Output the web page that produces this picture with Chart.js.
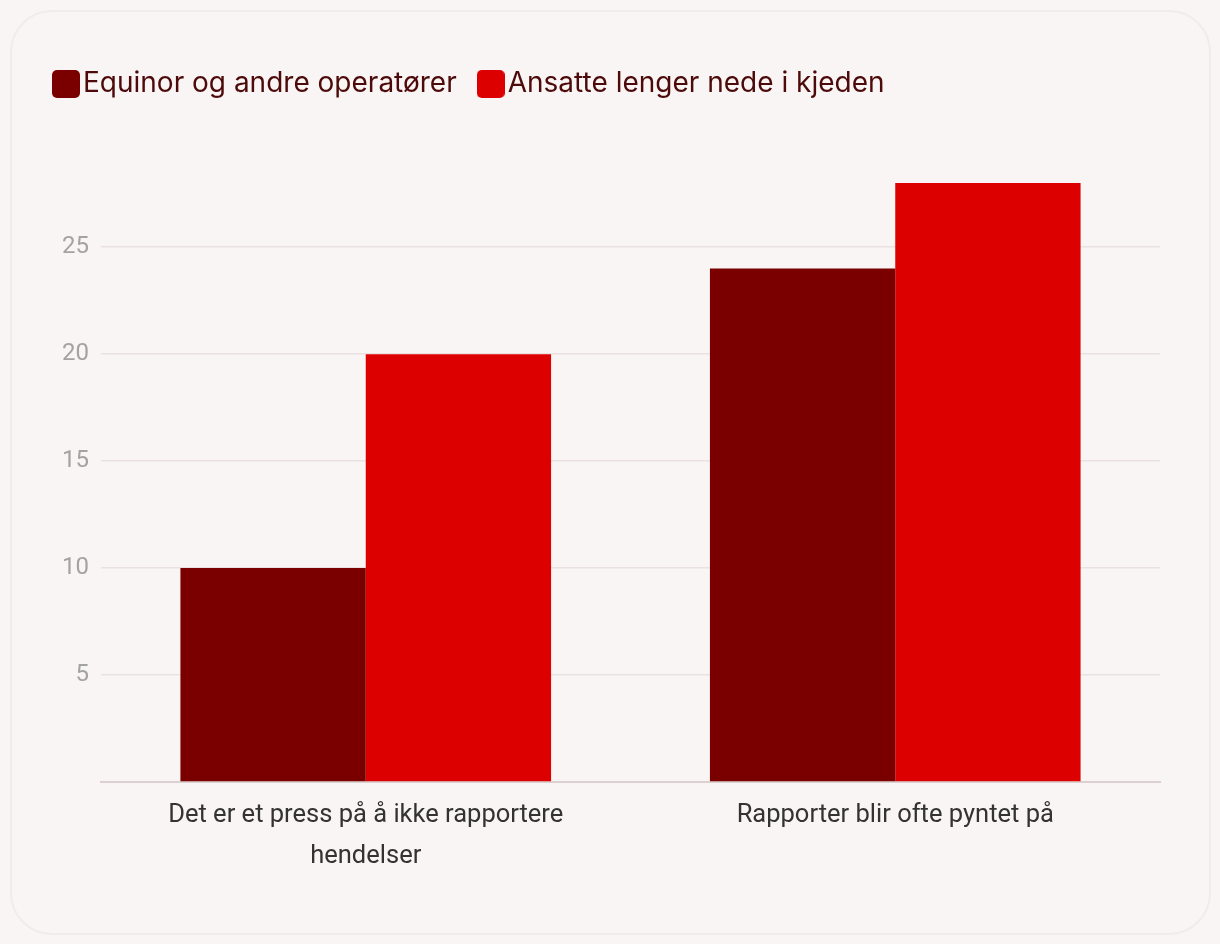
<!DOCTYPE html>
<html><head><meta charset="utf-8">
<script src="https://cdn.jsdelivr.net/npm/chart.js@4/dist/chart.umd.min.js"></script>
<style>
html,body{margin:0;padding:0;background:#f9f5f4;width:1220px;height:944px;overflow:hidden}
#card{position:absolute;left:10px;top:10px;width:1197px;height:921px;border:2px solid #f1ebea;border-radius:42px;background:#f9f5f4}
#wrap{position:absolute;left:0;top:0;width:1220px;height:944px}
</style></head><body>
<div id="card"></div>
<div id="wrap"><canvas id="c" width="1220" height="944"></canvas></div>
<script>
const categories = [["Det er et press på å ikke rapportere","hendelser"],"Rapporter blir ofte pyntet på"];
const seriesNames = ["Equinor og andre operatører","Ansatte lenger nede i kjeden"];
const equinor = [10,24];
const ansatte = [20,28];
const colors = ["#7a0000","#dc0000"];

function swatch(color){
  const cv=document.createElement('canvas'); cv.width=28; cv.height=28;
  const g=cv.getContext('2d'); g.fillStyle=color; g.beginPath();
  if(g.roundRect) g.roundRect(0,0,28,28,5); else g.rect(0,0,28,28);
  g.fill(); return cv;
}
const swatches = colors.map(swatch);

const legendGap = {id:'legendGap', beforeInit(chart){
  const lg = chart.legend; const orig = lg.fit;
  lg.fit = function(){ orig.call(this); this.height += 75; };
}};

new Chart(document.getElementById('c'),{
  type:'bar',
  data:{labels:categories,datasets:[
    {label:seriesNames[0],data:equinor,backgroundColor:colors[0],borderWidth:0},
    {label:seriesNames[1],data:ansatte,backgroundColor:colors[1],borderWidth:0}
  ]},
  plugins:[legendGap],
  options:{
    responsive:false,animation:false,
    categoryPercentage:0.7,barPercentage:1.0,
    layout:{padding:{left:32,right:60,top:39,bottom:60}},
    plugins:{
      tooltip:{enabled:false},
      legend:{position:'top',align:'start',
        labels:{font:{family:'Inter',size:28},color:'#4d0a0a',usePointStyle:true,boxWidth:6,boxHeight:28,padding:31,
          generateLabels:(chart)=>Chart.defaults.plugins.legend.labels.generateLabels(chart).map((it,i)=>Object.assign(it,{pointStyle:swatches[i]}))}
      }
    },
    scales:{
      x:{grid:{display:false,drawTicks:false},border:{color:'#ddd0d1',width:2},
        ticks:{font:{family:'Roboto',size:25.5,lineHeight:1.6},color:'#333333',padding:13,maxRotation:0},
        afterFit:s=>{s.height=102;}},
      y:{min:0,max:28,grid:{color:c=>(c.tick.value===0||c.tick.value===28)?'rgba(0,0,0,0)':'#ebe1e1',lineWidth:1.5,drawTicks:false},
        border:{display:false},
        ticks:{stepSize:5,font:{family:'Roboto',size:24},color:'#a3a3a3',padding:12,
          callback:v=>(v===0||v===28)?'':v},
        afterFit:s=>{s.width=69;}}
    }
  }
});
</script></body></html>
